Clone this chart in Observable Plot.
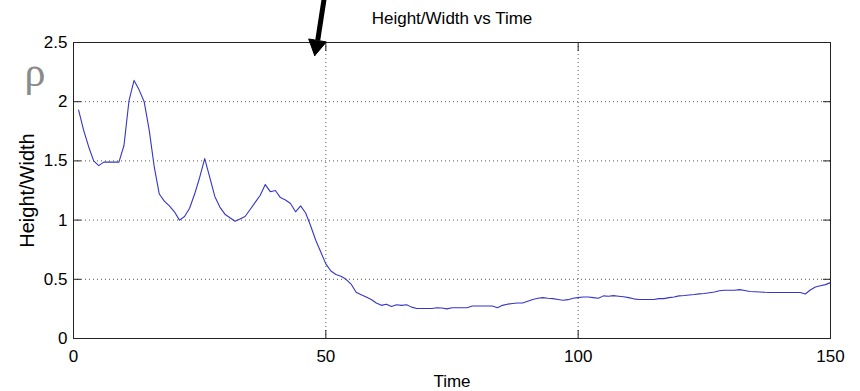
<!DOCTYPE html>
<html>
<head>
<meta charset="utf-8">
<script src="https://cdn.jsdelivr.net/npm/d3@7"></script>
<script src="https://cdn.jsdelivr.net/npm/@observablehq/plot@0.6"></script>
<style>
  html, body { margin: 0; padding: 0; background: #fff; }
  svg { display: block; }
</style>
</head>
<body>
<div id="chart"></div>
<script>
// Height/width ratio of the tracked shape over time
const time = [
  1, 2, 3, 4, 5, 6, 7, 8, 9, 10,
  11, 12, 13, 14, 15, 16, 17, 18, 19, 20,
  21, 22, 23, 24, 25, 26, 27, 28, 29, 30,
  31, 32, 33, 34, 35, 36, 37, 38, 39, 40,
  41, 42, 43, 44, 45, 46, 47, 48, 49, 50,
  51, 52, 53, 54, 55, 56, 57, 58, 59, 60,
  61, 62, 63, 64, 65, 66, 67, 68, 69, 70,
  71, 72, 73, 74, 75, 76, 77, 78, 79, 80,
  81, 82, 83, 84, 85, 86, 87, 88, 89, 90,
  91, 92, 93, 94, 95, 96, 97, 98, 99, 100,
  101, 102, 103, 104, 105, 106, 107, 108, 109, 110,
  111, 112, 113, 114, 115, 116, 117, 118, 119, 120,
  121, 122, 123, 124, 125, 126, 127, 128, 129, 130,
  131, 132, 133, 134, 135, 136, 137, 138, 139, 140,
  141, 142, 143, 144, 145, 146, 147, 148, 149, 150
];
const ratio = [
  1.93, 1.76, 1.62, 1.50, 1.46, 1.49, 1.49, 1.49, 1.49, 1.63,
  2.01, 2.18, 2.10, 2.00, 1.76, 1.45, 1.22, 1.16, 1.12, 1.07,
  1.00, 1.03, 1.10, 1.22, 1.36, 1.52, 1.36, 1.20, 1.11, 1.05,
  1.02, 0.99, 1.01, 1.03, 1.09, 1.15, 1.21, 1.30, 1.24, 1.25,
  1.19, 1.17, 1.14, 1.07, 1.12, 1.06, 0.95, 0.83, 0.73, 0.63,
  0.57, 0.54, 0.525, 0.50, 0.46, 0.39, 0.37, 0.35, 0.33, 0.30,
  0.28, 0.29, 0.27, 0.285, 0.28, 0.285, 0.265, 0.253, 0.253, 0.253,
  0.253, 0.26, 0.258, 0.25, 0.26, 0.26, 0.26, 0.26, 0.275, 0.275,
  0.275, 0.275, 0.275, 0.26, 0.28, 0.29, 0.295, 0.30, 0.30, 0.315,
  0.33, 0.34, 0.345, 0.34, 0.337, 0.33, 0.323, 0.328, 0.34, 0.345,
  0.35, 0.35, 0.345, 0.34, 0.36, 0.357, 0.362, 0.357, 0.352, 0.345,
  0.335, 0.33, 0.33, 0.33, 0.33, 0.337, 0.337, 0.345, 0.35, 0.36,
  0.363, 0.368, 0.372, 0.377, 0.38, 0.387, 0.393, 0.403, 0.407, 0.407,
  0.407, 0.413, 0.405, 0.397, 0.395, 0.393, 0.39, 0.388, 0.388, 0.388,
  0.388, 0.388, 0.388, 0.388, 0.376, 0.41, 0.435, 0.445, 0.455, 0.472
];

const xTicks = [0, 50, 100, 150];
const yTicks = [0, 0.5, 1, 1.5, 2, 2.5];
const xGrid = [50, 100];
const yGrid = [0.5, 1, 1.5, 2];

const title = "Height/Width vs Time";
const xLabel = "Time";
const yLabel = "Height/Width";
const symbolLabel = "ρ";

// Annotation arrow pointing at t ≈ 48 (shaft + filled head), in data units
const arrowShaft = [{x1: 49.7, y1: 2.88, x2: 48.4, y2: 2.52}];
const arrowHeadX = [47.8, 46.6, 50.1, 47.8];
const arrowHeadY = [2.389, 2.53, 2.505, 2.389];

const series = time.map((t, i) => ({t, v: ratio[i]}));
const arrowHead = arrowHeadX.map((x, i) => ({x, y: arrowHeadY[i]}));

const font = "'Liberation Sans', Arial, Helvetica, sans-serif";

const chart = Plot.plot({
  width: 860,
  height: 391,
  marginLeft: 73,
  marginRight: 30,
  marginTop: 42,
  marginBottom: 53,
  style: {fontFamily: font, fontSize: "17px", color: "black", background: "white", overflow: "visible"},
  x: {domain: [0, 150]},
  y: {domain: [0, 2.5]},
  marks: [
    Plot.gridX(xGrid, {stroke: "#555", strokeOpacity: 1, strokeDasharray: "1,3"}),
    Plot.gridY(yGrid, {stroke: "#555", strokeOpacity: 1, strokeDasharray: "1,3"}),
    Plot.line(series, {x: "t", y: "v", stroke: "#3535c8", strokeWidth: 1.1}),
    Plot.frame({stroke: "#222", strokeWidth: 1}),
    // inward ticks on all four sides, labels on bottom and left
    Plot.axisX(xTicks, {anchor: "bottom", tickSize: -8, tickPadding: 19, label: null, tickFormat: d => String(d), stroke: "#222"}),
    Plot.axisX(xTicks, {anchor: "top", tickSize: -8, label: null, tickFormat: () => "", stroke: "#222"}),
    Plot.axisY(yTicks, {anchor: "left", tickSize: -8, tickPadding: 14, label: null, tickFormat: d => String(d), stroke: "#222"}),
    Plot.axisY(yTicks, {anchor: "right", tickSize: -8, label: null, tickFormat: () => "", stroke: "#222"}),
    Plot.text([title], {frameAnchor: "top", lineAnchor: "middle", dy: -24, fontSize: 17, fill: "black"}),
    Plot.text([xLabel], {frameAnchor: "bottom", lineAnchor: "middle", dy: 43, fontSize: 17, fill: "black"}),
    Plot.text([yLabel], {frameAnchor: "left", textAnchor: "middle", lineAnchor: "middle", dx: -46, rotate: -90, fontSize: 20, fill: "black"}),
    Plot.text([symbolLabel], {frameAnchor: "top-left", textAnchor: "start", lineAnchor: "top", dx: -49, dy: 14, fontSize: 42, fill: "#8a8a8a", fontFamily: "'Liberation Serif', 'DejaVu Serif', serif"}),
    Plot.link(arrowShaft, {x1: "x1", y1: "y1", x2: "x2", y2: "y2", stroke: "black", strokeWidth: 5}),
    Plot.line(arrowHead, {x: "x", y: "y", fill: "black", stroke: "black", strokeWidth: 1})
  ]
});

document.getElementById("chart").appendChild(chart);
</script>
</body>
</html>
